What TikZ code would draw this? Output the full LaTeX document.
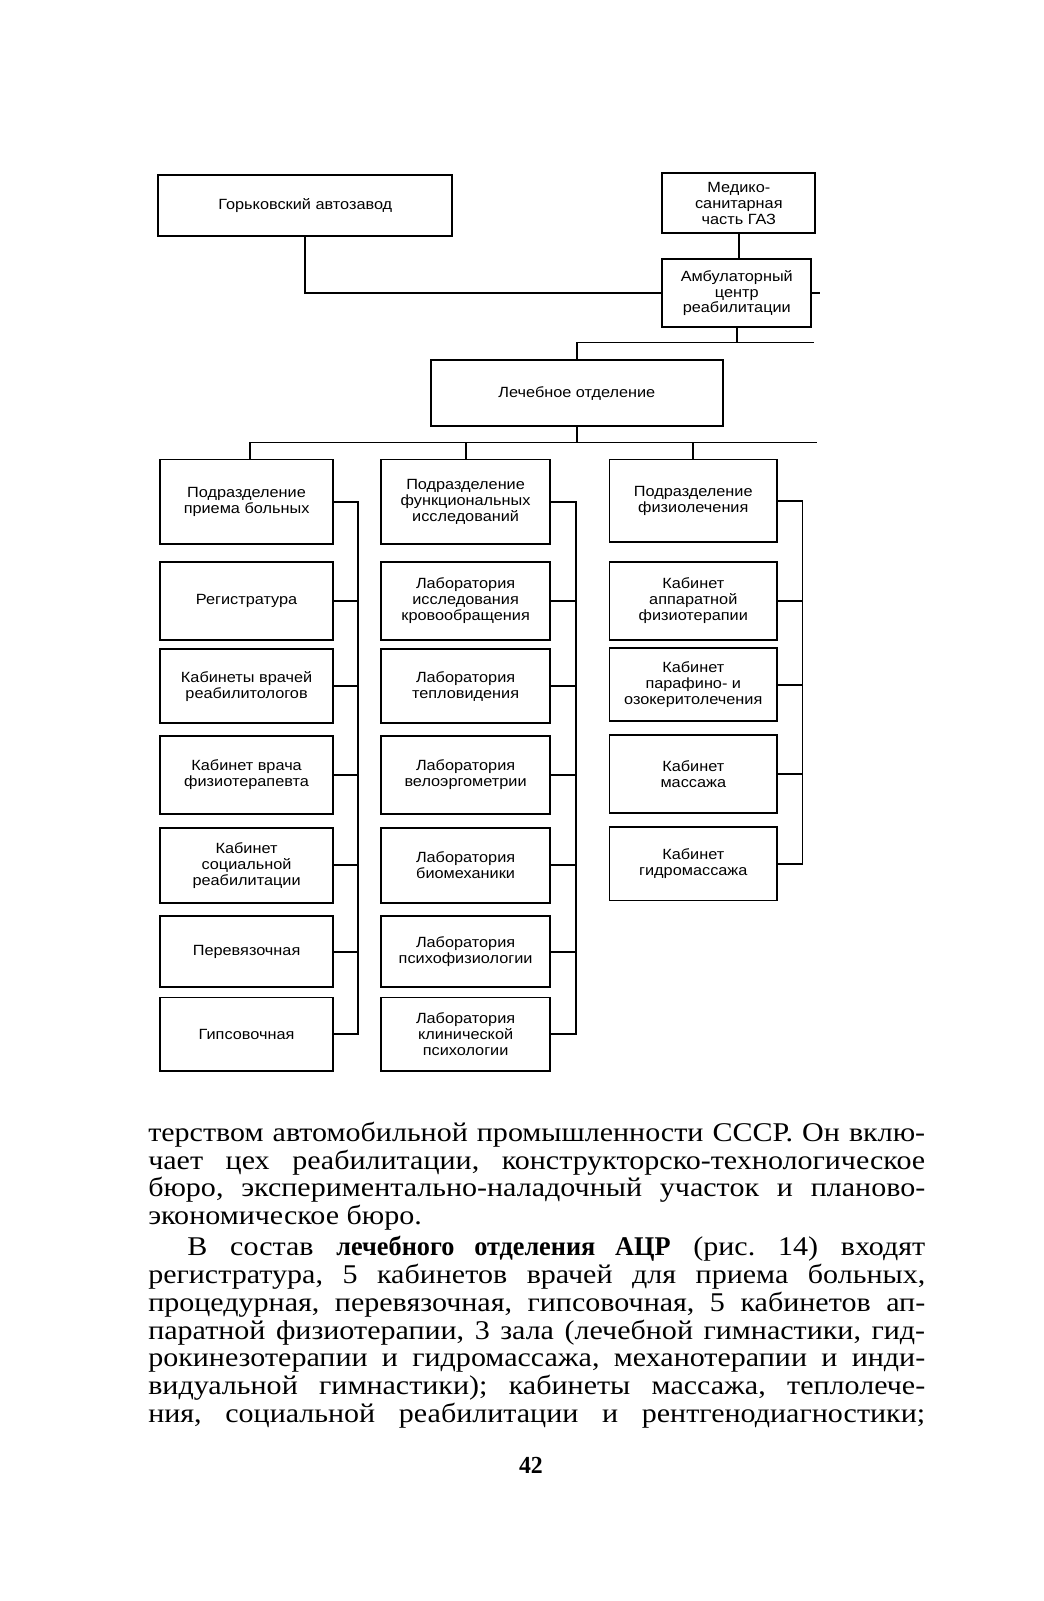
\documentclass[tikz,border=0pt]{standalone}
\usepackage{fontspec}
\setmainfont[FakeStretch=1.11, BoldFeatures={FakeStretch=0.97}]{Liberation Serif}
\newfontfamily\diagfont[FakeStretch=1.1]{Liberation Sans}
\begin{document}
\frenchspacing
\begin{tikzpicture}[x=1pt,y=-1pt,
  box/.style={draw, line width=1.8pt, align=center, inner sep=0pt,
    font=\diagfont\fontsize{14.5}{15.5}\selectfont},
  wire/.style={line width=1.8pt, line join=miter},
  bodyline/.style={anchor=base west, inner sep=0pt, font=\fontsize{26.5}{27.3}\selectfont}]
\useasboundingbox (0,0) rectangle (1022,1568);
% top level
\node[box, minimum width=288pt, minimum height=60pt] (gaz) at (299,201) {Горьковский автозавод};
\node[box, minimum width=150pt, minimum height=59pt] (msch) at (723.6,199) {Медико-\\санитарная\\часть ГАЗ};
\node[box, minimum width=146pt, minimum height=67pt] (acr) at (721.6,287) {Амбулаторный\\центр\\реабилитации};
\node[box, minimum width=286pt, minimum height=65pt] (lech) at (565,385) {Лечебное отделение};
% column 1
\node[box, minimum width=169pt, minimum height=83pt] (a1) at (241.5,491.5) {Подразделение\\приема больных};
\node[box, minimum width=169pt, minimum height=77pt] (a2) at (241.5,588.5) {Регистратура};
\node[box, minimum width=169pt, minimum height=72pt] (a3) at (241.5,672) {Кабинеты врачей\\реабилитологов};
\node[box, minimum width=169pt, minimum height=76pt] (a4) at (241.5,759) {Кабинет врача\\физиотерапевта};
\node[box, minimum width=169pt, minimum height=73pt] (a5) at (241.5,847.5) {Кабинет\\социальной\\реабилитации};
\node[box, minimum width=169pt, minimum height=70pt] (a6) at (241.5,932) {Перевязочная};
\node[box, minimum width=169pt, minimum height=72pt] (a7) at (241.5,1013) {Гипсовочная};
% column 2
\node[box, minimum width=166pt, minimum height=83pt] (b1) at (456,491.5) {Подразделение\\функциональных\\исследований};
\node[box, minimum width=166pt, minimum height=77pt] (b2) at (456,588.5) {Лаборатория\\исследования\\кровообращения};
\node[box, minimum width=166pt, minimum height=72pt] (b3) at (456,672) {Лаборатория\\тепловидения};
\node[box, minimum width=166pt, minimum height=76pt] (b4) at (456,759) {Лаборатория\\велоэргометрии};
\node[box, minimum width=166pt, minimum height=73pt] (b5) at (456,847.5) {Лаборатория\\биомеханики};
\node[box, minimum width=166pt, minimum height=70pt] (b6) at (456,932) {Лаборатория\\психофизиологии};
\node[box, minimum width=166pt, minimum height=72pt] (b7) at (456,1013) {Лаборатория\\клинической\\психологии};
% column 3
\node[box, minimum width=164pt, minimum height=81pt] (c1) at (679,490.5) {Подразделение\\физиолечения};
\node[box, minimum width=164pt, minimum height=77pt] (c2) at (679,588.5) {Кабинет\\аппаратной\\физиотерапии};
\node[box, minimum width=164pt, minimum height=71pt] (c3) at (679,670.5) {Кабинет\\парафино- и\\озокеритолечения};
\node[box, minimum width=164pt, minimum height=76pt] (c4) at (679,758) {Кабинет\\массажа};
\node[box, minimum width=164pt, minimum height=72pt] (c5) at (679,846) {Кабинет\\гидромассажа};
% coordinates
\coordinate (acrstub) at (803,287);
\coordinate (hub) at (565,335.5);
\coordinate (hubr) at (797,335.5);
\coordinate (br) at (244.7,433.4);
\coordinate (brr) at (800,433.4);
\coordinate (busA) at (351,0);
\coordinate (busB) at (564.5,0);
\coordinate (busC) at (786,0);
% top connectors
\draw[wire] (gaz.south) |- (acr.west);
\draw[wire] (msch.south) -- (msch.south |- acr.north);
\draw[wire] (acr.east) -- (acrstub);
\draw[wire] (acr.south) -- (acr.south |- hub);
\draw[wire] (hubr) -- (hub) -- (lech.north);
\draw[wire] (lech.south) -- (lech.south |- br);
\draw[wire] (brr) -- (br) -- (br |- a1.north);
\draw[wire] (b1.north |- br) -- (b1.north);
\draw[wire] (c1.north |- br) -- (c1.north);
% column buses
\draw[wire] (a1.east) -| (a7.east -| busA) -- (a7.east);
\foreach \n in {a2,a3,a4,a5,a6} \draw[wire] (\n.east) -- (\n.east -| busA);
\draw[wire] (b1.east) -| (b7.east -| busB) -- (b7.east);
\foreach \n in {b2,b3,b4,b5,b6} \draw[wire] (\n.east) -- (\n.east -| busB);
\draw[wire] (c1.east) -| (c5.east -| busC) -- (c5.east);
\foreach \n in {c2,c3,c4} \draw[wire] (\n.east) -- (\n.east -| busC);
% body text
\node[bodyline] (t1) at (145,1117.6) {\makebox[761pt][s]{терством автомобильной промышленности СССР. Он вклю-}};
\node[bodyline] (t2) at (145,1145) {\makebox[761pt][s]{чает цех реабилитации, конструкторско-технологическое}};
\node[bodyline] (t3) at (145,1172) {\makebox[761pt][s]{бюро, экспериментально-наладочный участок и планово-}};
\node[bodyline] (t4) at (145,1199.5) {экономическое бюро.};
\node[bodyline] (t5) at (183.4,1230) {\makebox[722.6pt][s]{В состав \textbf{лечебного отделения АЦР} (рис. 14) входят}};
\node[bodyline] (t6) at (145,1257.2) {\makebox[761pt][s]{регистратура, 5 кабинетов врачей для приема больных,}};
\node[bodyline] (t7) at (145,1284.4) {\makebox[761pt][s]{процедурная, перевязочная, гипсовочная, 5 кабинетов ап-}};
\node[bodyline] (t8) at (145,1311.6) {\makebox[761pt][s]{паратной физиотерапии, 3 зала (лечебной гимнастики, гид-}};
\node[bodyline] (t9) at (145,1338.8) {\makebox[761pt][s]{рокинезотерапии и гидромассажа, механотерапии и инди-}};
\node[bodyline] (t10) at (145,1366) {\makebox[761pt][s]{видуальной гимнастики); кабинеты массажа, теплолече-}};
\node[bodyline] (t11) at (145,1393.2) {\makebox[761pt][s]{ния, социальной реабилитации и рентгенодиагностики;}};
\node[inner sep=0pt, anchor=base, font=\bfseries\fontsize{24}{24}\selectfont] (pg) at (520,1443) {42};
\end{tikzpicture}
\end{document}
